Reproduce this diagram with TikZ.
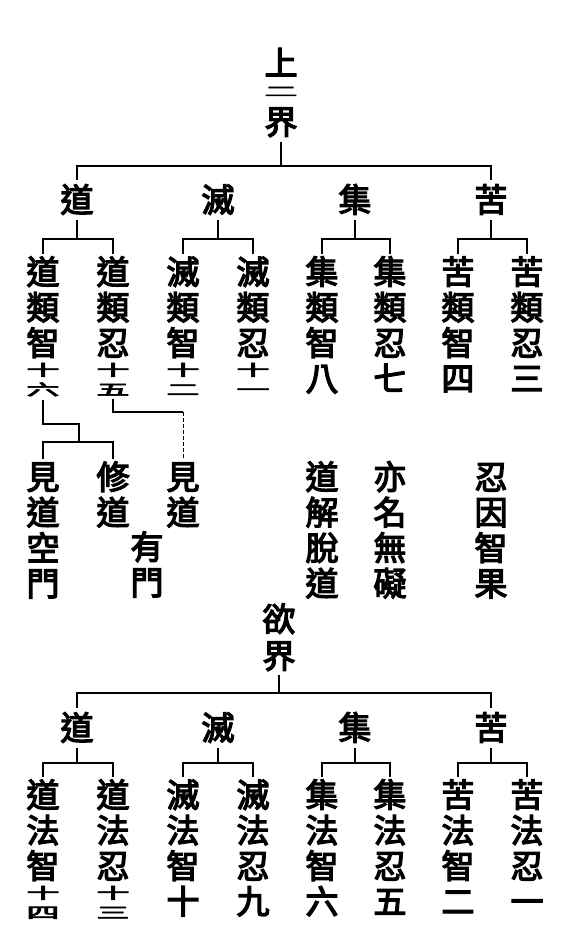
\documentclass[tikz,border=0pt]{standalone}
\usepackage{fontspec}
\usepackage{graphicx}
\usetikzlibrary{calc}
\newfontfamily\cjk[FakeBold=4]{Noto Sans CJK TC}
\newcommand\sq[1]{\scalebox{1}[0.46]{#1}}
\newcommand\fs{\rule{0pt}{28pt}}
\tikzset{
  ln/.style={line width=1.8pt},
  dl/.style={line width=0.9pt, dash pattern=on 4pt off 2pt},
  ch/.style={inner sep=0pt, font=\cjk\fontsize{33}{35.5}\selectfont},
  vcol/.style={ch, align=center, anchor=north},
}
\begin{document}
\begin{tikzpicture}[x=1pt,y=-1pt]
\fill[white] (0,0) rectangle (567,942);
\useasboundingbox (0,0) rectangle (567,942);
% ---------- upper two realms ----------
\node[vcol] (t0) at (281,47) {\fs 上\\[-14.5pt]\scalebox{1}[0.4]{二}\\[2.5pt]界};
\node[ch, anchor=base] (a1) at (77,212) {道};
\node[ch, anchor=base] (a2) at (218,212) {滅};
\node[ch, anchor=base] (a3) at (355,212) {集};
\node[ch, anchor=base] (a4) at (491,212) {苦};
\node[vcol] (c1) at (43,256)  {\fs 道\\類\\智\\[-15pt]\sq{十}\\[-16pt]\sq{六}};
\node[vcol] (c2) at (113,256) {\fs 道\\類\\忍\\[-15pt]\sq{十}\\[-16pt]\sq{五}};
\node[vcol] (c3) at (183,256) {\fs 滅\\類\\智\\[-15pt]\sq{十}\\[-16pt]\sq{二}};
\node[vcol] (c4) at (253,256) {\fs 滅\\類\\忍\\[-15pt]\sq{十}\\[-16pt]\sq{一}};
\node[vcol] (c5) at (322,256) {\fs 集\\類\\智\\八};
\node[vcol] (c6) at (390,256) {\fs 集\\類\\忍\\七};
\node[vcol] (c7) at (458,256) {\fs 苦\\類\\智\\四};
\node[vcol] (c8) at (527,256) {\fs 苦\\類\\忍\\三};
% notes
\node[vcol] (d1) at (43,461)  {\fs 見\\道\\空\\門};
\node[vcol] (d2) at (113,461) {\fs 修\\道};
\node[vcol] (d3) at (183,461) {\fs 見\\道};
\node[vcol] (e1) at (147,531) {\fs 有\\門};
\node[vcol] (e2) at (322,461) {\fs 道\\解\\脫\\道};
\node[vcol] (e3) at (390,461) {\fs 亦\\名\\無\\礙};
\node[vcol] (e4) at (491,461) {\fs 忍\\因\\智\\果};
% ---------- desire realm ----------
\node[vcol] (b0) at (279,603) {\fs 欲\\[1.5pt]界};
\node[ch, anchor=base] (f1) at (77,740) {道};
\node[ch, anchor=base] (f2) at (218,740) {滅};
\node[ch, anchor=base] (f3) at (355,740) {集};
\node[ch, anchor=base] (f4) at (491,740) {苦};
\node[vcol] (g1) at (43,779)  {\fs 道\\法\\智\\[-15pt]\sq{十}\\[-16pt]\sq{四}};
\node[vcol] (g2) at (113,779) {\fs 道\\法\\忍\\[-15pt]\sq{十}\\[-16pt]\sq{三}};
\node[vcol] (g3) at (183,779) {\fs 滅\\法\\智\\十};
\node[vcol] (g4) at (253,779) {\fs 滅\\法\\忍\\九};
\node[vcol] (g5) at (322,779) {\fs 集\\法\\智\\六};
\node[vcol] (g6) at (390,779) {\fs 集\\法\\忍\\五};
\node[vcol] (g7) at (458,779) {\fs 苦\\法\\智\\二};
\node[vcol] (g8) at (527,779) {\fs 苦\\法\\忍\\一};
% ---------- connectors ----------
\coordinate (H1) at (0,166);
\coordinate (B1) at (0,239);
\coordinate (H2) at (0,693);
\coordinate (B2) at (0,763);
\coordinate (B3) at (0,442);
\coordinate (J1) at (79,424);
\coordinate (J2) at (183,412);
\draw[ln] ($(t0.south)+(0,5)$) -- (t0.south |- H1);
\draw[ln] ($(a1.north)+(0,-4)$) -- (a1.north |- H1) -- (a4.north |- H1) -- ($(a4.north)+(0,-4)$);
\foreach \p/\l/\r in {a1/c1/c2, a2/c3/c4, a3/c5/c6, a4/c7/c8}{
  \draw[ln] ($(\p.south)+(0,5)$) -- (\p.south |- B1);
  \draw[ln] ($(\l.north)+(0,-2)$) -- (\l.north |- B1) -- (\r.north |- B1) -- ($(\r.north)+(0,-2)$);
}
\draw[ln] ($(c1.south)+(0,3)$) |- (J1) -- (J1 |- B3);
\draw[ln] ($(d1.north)+(0,-2)$) -- (d1.north |- B3) -- (d2.north |- B3) -- ($(d2.north)+(0,-2)$);
\draw[ln] ($(c2.south)+(0,3)$) |- (J2);
\draw[dl] (J2) -- ($(d3.north)+(0,-2)$);
\draw[ln] ($(b0.south)+(0,4)$) -- (b0.south |- H2);
\draw[ln] ($(f1.north)+(0,-4)$) -- (f1.north |- H2) -- (f4.north |- H2) -- ($(f4.north)+(0,-4)$);
\foreach \p/\l/\r in {f1/g1/g2, f2/g3/g4, f3/g5/g6, f4/g7/g8}{
  \draw[ln] ($(\p.south)+(0,5)$) -- (\p.south |- B2);
  \draw[ln] ($(\l.north)+(0,-2)$) -- (\l.north |- B2) -- (\r.north |- B2) -- ($(\r.north)+(0,-2)$);
}
\end{tikzpicture}
\end{document}
